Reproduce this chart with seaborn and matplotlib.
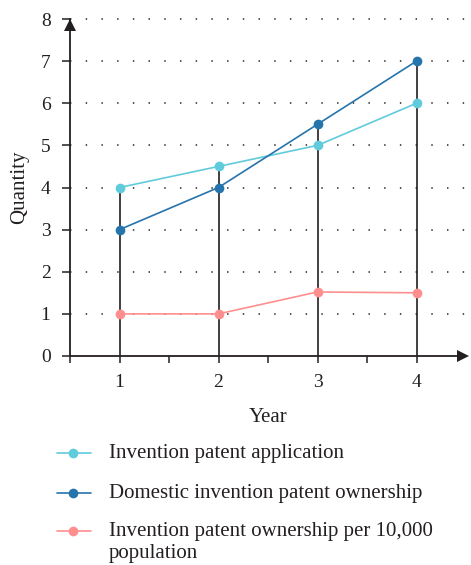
import numpy as np
import pandas as pd
import matplotlib
matplotlib.use("Agg")
import matplotlib.pyplot as plt
from matplotlib.lines import Line2D
import seaborn as sns

years = [1, 2, 3, 4]
application = [4.0, 4.5, 5.0, 6.0]
domestic_ownership = [3.0, 4.0, 5.5, 7.0]
ownership_per_10k = [1.0, 1.0, 1.52, 1.5]
series_names = [
    "Invention patent application",
    "Domestic invention patent ownership",
    "Invention patent ownership per 10,000\npopulation",
]
colors = ["#5fcbdb", "#2674ac", "#ff8f8f"]
y_ticks = [0, 1, 2, 3, 4, 5, 6, 7, 8]

sns.set_theme(style="white")
plt.rcParams["font.family"] = ["Liberation Serif", "DejaVu Serif"]
ink = "#231f20"

df = pd.DataFrame({
    "Year": years * 3,
    "Quantity": application + domestic_ownership + ownership_per_10k,
    "Series": [series_names[0]] * 4 + [series_names[1]] * 4 + [series_names[2]] * 4,
})

W, H = 471, 565
fig = plt.figure(figsize=(W / 100, H / 100), dpi=100)
ax = fig.add_axes([70 / W, (H - 356) / H, (466 - 70) / W, (356 - 19) / H])

# drop lines from the axis up to the highest value in each year
tops = np.max([application, domestic_ownership, ownership_per_10k], axis=0)
ax.vlines(years, 0, tops, color=ink, lw=1.2, zorder=1)

sns.lineplot(data=df, x="Year", y="Quantity", hue="Series", hue_order=series_names,
             palette=colors, marker="o", markersize=7, markeredgewidth=0,
             linewidth=1.2, ax=ax, zorder=3, legend=False)

ax.set_xlim(0.5, 4.5)
ax.set_ylim(0, 8)
ax.set_yticks(y_ticks)
ax.set_xticks(years)
ax.set_xticks([0.5, 1.5, 2.5, 3.5], minor=True)
for y in y_ticks[1:]:
    ax.plot([0.5, 4.55], [y, y], ls=(0, (0.8, 7.9)), color="#444444", lw=1.3,
            clip_on=False, zorder=0)

for side in ["top", "right"]:
    ax.spines[side].set_visible(False)
for side in ["left", "bottom"]:
    ax.spines[side].set_color(ink)
    ax.spines[side].set_linewidth(1.3)
ax.tick_params(axis="both", which="both", direction="out", color=ink, width=1.1,
               labelsize=14, labelcolor=ink, bottom=True, left=True)
ax.tick_params(axis="y", length=6, pad=8)
ax.tick_params(axis="x", which="both", length=5, pad=8)

# arrow heads at the ends of the axes
ax.plot(0.5, 7.86, marker="^", color=ink, markersize=9, markeredgewidth=0,
        clip_on=False, zorder=5)
ax.plot(4.47, 0, marker=">", color=ink, markersize=9, markeredgewidth=0,
        clip_on=False, zorder=5)

ax.set_xlabel("Year", fontsize=15, color=ink, labelpad=12)
ax.set_ylabel("Quantity", fontsize=15, color=ink, labelpad=8)

# legend below the axes, one row per series, handle aligned with first text line
rows_y = [453, 493, 531]
for name, col, yy in zip(series_names, colors, rows_y):
    fy = 1 - yy / H
    fig.add_artist(Line2D([57 / W, 91 / W], [fy, fy], color=col, lw=1.2,
                          transform=fig.transFigure))
    fig.add_artist(Line2D([73 / W], [fy], color=col, marker="o", markersize=7,
                          markeredgewidth=0, transform=fig.transFigure))
    fig.text(109 / W, fy + 9 / H, name, fontsize=15, color=ink, va="top",
             ha="left", linespacing=1.2)

fig.savefig("out.png", dpi=100)
